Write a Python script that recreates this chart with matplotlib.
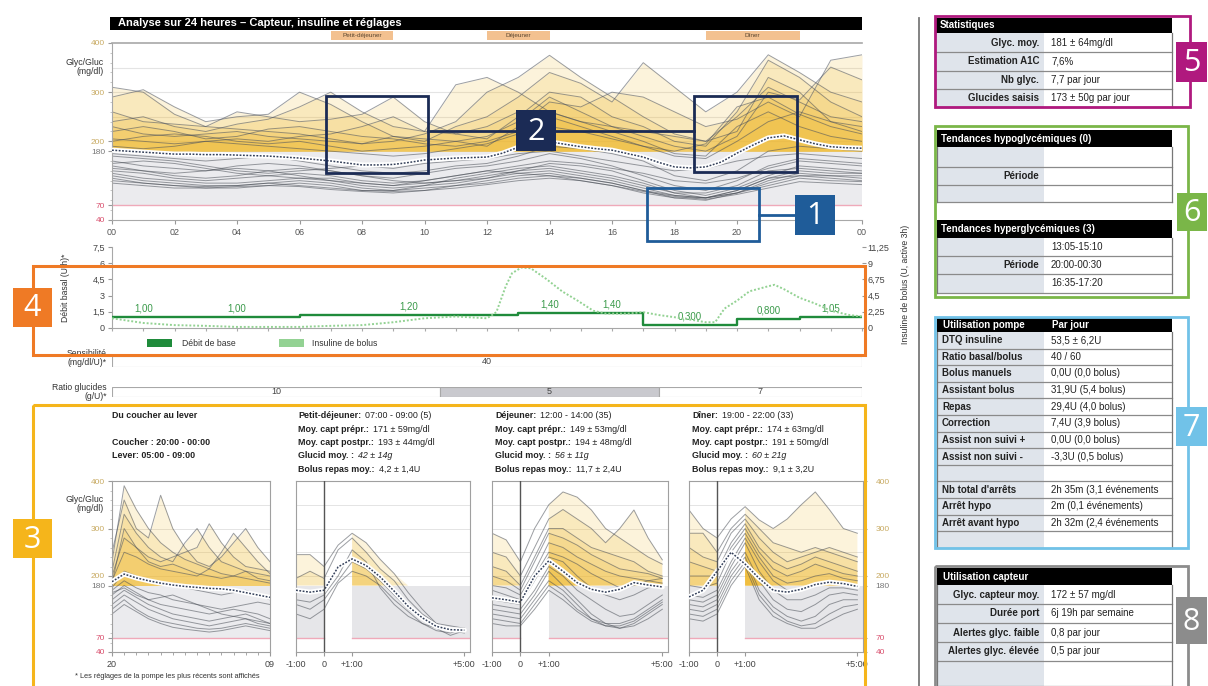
import numpy as np
import matplotlib
matplotlib.use("Agg")
import matplotlib.pyplot as plt
from matplotlib.patches import Rectangle
from matplotlib.transforms import blended_transform_factory
from matplotlib.ticker import MultipleLocator

plt.rcParams["font.family"] = ["Liberation Sans", "DejaVu Sans"]

# ---------------------------------------------------------------- data
hours = np.arange(25)

day_traces = [
    [310, 300, 255, 230, 225, 220, 215, 205, 195, 200, 215, 240, 300, 330, 375, 330, 290, 250, 215, 200, 250, 310, 280, 250, 240],
    [290, 305, 270, 240, 250, 255, 300, 275, 240, 210, 200, 230, 250, 290, 340, 318, 280, 360, 310, 260, 300, 376, 340, 300, 280],
    [260, 240, 235, 230, 260, 250, 240, 245, 255, 290, 240, 215, 205, 250, 300, 290, 250, 230, 200, 190, 260, 365, 330, 280, 250],
    [240, 250, 230, 220, 235, 245, 270, 300, 260, 230, 220, 315, 330, 300, 260, 240, 230, 210, 190, 180, 210, 300, 284, 351, 325],
    [230, 215, 210, 215, 220, 210, 205, 200, 195, 210, 205, 200, 190, 230, 280, 270, 300, 290, 260, 230, 245, 280, 250, 365, 376],
    [220, 230, 220, 205, 210, 225, 230, 220, 210, 205, 195, 190, 200, 220, 260, 240, 220, 200, 175, 170, 230, 260, 230, 210, 200],
    [205, 200, 195, 200, 205, 200, 210, 215, 230, 250, 220, 215, 230, 260, 250, 230, 210, 190, 170, 165, 200, 240, 260, 240, 220],
    [200, 210, 215, 210, 200, 195, 200, 190, 180, 185, 190, 200, 210, 240, 290, 260, 230, 220, 210, 200, 220, 330, 300, 240, 230],
    [190, 185, 190, 200, 195, 190, 185, 180, 175, 170, 175, 185, 195, 215, 230, 220, 205, 190, 180, 195, 270, 290, 255, 230, 215],
    [175, 170, 165, 160, 165, 170, 160, 150, 140, 135, 140, 150, 155, 170, 190, 185, 175, 160, 130, 120, 140, 180, 190, 185, 180],
    [170, 165, 160, 150, 140, 135, 140, 145, 150, 145, 155, 160, 165, 175, 180, 170, 160, 150, 140, 145, 160, 170, 175, 170, 165],
    [160, 150, 145, 140, 150, 155, 150, 140, 130, 125, 135, 145, 150, 160, 175, 165, 150, 130, 110, 100, 120, 150, 165, 160, 155],
    [155, 160, 155, 145, 135, 130, 125, 120, 115, 110, 120, 130, 140, 150, 160, 155, 145, 135, 120, 115, 125, 145, 160, 155, 150],
    [150, 140, 130, 125, 130, 140, 145, 140, 130, 120, 115, 120, 125, 140, 155, 150, 140, 120, 100, 90, 105, 130, 150, 145, 140],
    [145, 140, 135, 140, 145, 140, 130, 120, 110, 105, 110, 125, 135, 145, 150, 140, 130, 115, 95, 85, 100, 125, 140, 135, 135],
    [140, 135, 125, 120, 125, 130, 135, 130, 120, 115, 120, 130, 140, 135, 140, 130, 120, 105, 90, 85, 95, 115, 130, 130, 130],
    [135, 125, 120, 115, 115, 120, 125, 125, 115, 110, 115, 120, 130, 140, 145, 135, 125, 110, 95, 95, 110, 140, 145, 140, 135],
    [130, 120, 115, 110, 110, 115, 120, 115, 105, 100, 105, 110, 120, 130, 135, 125, 115, 100, 85, 80, 95, 120, 135, 130, 125],
    [125, 115, 110, 105, 105, 110, 115, 110, 100, 100, 110, 115, 125, 135, 130, 120, 110, 95, 85, 85, 100, 125, 130, 125, 120],
    [120, 115, 110, 108, 110, 115, 110, 105, 100, 98, 100, 110, 115, 125, 130, 125, 115, 100, 90, 85, 95, 110, 125, 120, 118],
    [115, 110, 105, 105, 108, 110, 108, 102, 98, 95, 100, 105, 112, 120, 125, 120, 110, 98, 88, 82, 92, 105, 118, 115, 112],
]

day_mean_t = np.arange(0, 24.5, 0.5)
day_mean = [182, 180, 178, 176, 174, 174, 173, 173, 172, 171, 170, 168, 166, 163, 160, 156,
            152, 152, 153, 157, 162, 164, 166, 167, 168, 176, 188, 203, 199, 194, 189, 185,
            182, 175, 168, 157, 148, 146, 148, 158, 176, 192, 207, 211, 203, 195, 189, 187, 186]

hour_labels = ["00", "02", "04", "06", "08", "10", "12", "14", "16", "18", "20", "22", "00"]

meal_names = ["Petit-déjeuner", "Déjeuner", "Dîner"]
meal_start = [7, 12, 19]
meal_end = [9, 14, 22]

gl_ticks = [40, 70, 180, 200, 300, 400]
gl_tick_colors = ["#d9506e", "#d9506e", "#777777", "#c8aa62", "#c8aa62", "#c8aa62"]

# basal programme (U/h) and active bolus insulin (U)
basal_start = [0, 2, 6, 13, 15, 17, 20, 22]
basal_end = [2, 6, 13, 15, 17, 20, 22, 24]
basal_rate = [1.00, 1.00, 1.20, 1.40, 1.40, 0.300, 0.800, 1.05]

bolus_t = [0, 1, 2, 3, 4, 5, 6, 7, 8, 9, 10, 11, 12, 12.3, 12.6, 12.8, 13.1, 13.4, 13.9, 14.4,
           14.9, 15.4, 15.8, 16.5, 17, 17.5, 18, 18.6, 19, 19.3, 19.6, 20, 20.4, 21, 21.2, 21.5,
           22, 22.5, 23, 23.6, 24]
bolus_u = [1.35, 0.7, 0.4, 0.3, 0.15, 0.15, 0.15, 0.3, 0.4, 0.8, 1.35, 1.6, 1.35, 2.2, 5.8, 7.6,
           8.4, 8.3, 6.8, 5.1, 3.8, 2.4, 2.0, 2.0, 2.2, 1.8, 1.5, 1.1, 0.8, 0.8, 2.7, 3.8, 5.1,
           5.8, 6.0, 5.4, 4.2, 3.4, 2.4, 1.8, 1.6]

sensitivity_value = 40
ratio_start = [0, 10.5, 17.5]
ratio_end = [10.5, 17.5, 24]
ratio_value = [10, 5, 7]
ratio_color = ["white", "#c9c9ce", "white"]

# overnight panel: 20:00 -> 09:00, hourly
night_t = np.arange(14)
night_traces = [
    [230, 390, 340, 300, 270, 250, 235, 225, 215, 205, 200, 195, 190, 185],
    [250, 360, 300, 280, 370, 300, 260, 230, 220, 240, 270, 300, 260, 230],
    [210, 330, 290, 260, 240, 230, 270, 300, 260, 230, 220, 210, 205, 200],
    [200, 280, 260, 240, 230, 240, 250, 260, 310, 270, 240, 220, 215, 210],
    [190, 250, 240, 225, 215, 210, 205, 200, 215, 250, 290, 260, 230, 205],
    [185, 300, 260, 230, 220, 225, 215, 205, 200, 195, 200, 210, 195, 190],
    [175, 210, 200, 190, 185, 180, 175, 170, 165, 160, 165, 170, 160, 150],
    [170, 190, 175, 165, 160, 150, 145, 140, 135, 130, 135, 140, 145, 140],
    [160, 180, 165, 150, 140, 135, 130, 125, 120, 125, 130, 125, 120, 110],
    [150, 170, 155, 140, 130, 120, 115, 110, 105, 110, 115, 120, 110, 100],
    [140, 160, 145, 130, 120, 110, 105, 100, 95, 100, 105, 110, 100, 95],
    [130, 150, 130, 115, 105, 100, 95, 90, 88, 90, 95, 100, 95, 90],
    [120, 140, 125, 110, 100, 92, 88, 85, 82, 85, 90, 95, 90, 85],
    [165, 175, 160, 150, 155, 160, 150, 140, 130, 120, 115, 110, 105, 100],
]
night_mean = [188, 204, 196, 190, 185, 181, 178, 176, 174, 173, 170, 165, 160, 155]

# meal panels: -1 h -> +5 h around the meal, every 30 min
meal_t = np.arange(-1, 5.25, 0.5)

breakfast_traces = [
    [245, 245, 220, 265, 290, 270, 235, 205, 165, 130, 100, 85, 80],
    [195, 210, 195, 255, 280, 250, 215, 190, 150, 120, 100, 95, 90],
    [140, 130, 150, 190, 230, 215, 190, 160, 130, 110, 90, 75, 85],
    [120, 110, 130, 185, 210, 200, 180, 150, 125, 100, 85, 80, 90],
    [150, 145, 160, 200, 255, 230, 175, 140, 115, 100, 90, 85, 88],
]
breakfast_mean = [170, 166, 170, 219, 236, 222, 198, 168, 136, 112, 94, 87, 86]

lunch_traces = [
    [290, 276, 230, 300, 350, 377, 366, 339, 300, 280, 260, 240, 225],
    [250, 240, 200, 260, 320, 340, 320, 300, 270, 300, 339, 280, 234],
    [220, 210, 180, 240, 300, 300, 280, 260, 250, 240, 230, 210, 200],
    [200, 190, 170, 230, 290, 280, 265, 245, 230, 215, 210, 205, 195],
    [180, 175, 160, 210, 270, 260, 240, 225, 210, 200, 195, 190, 185],
    [170, 160, 150, 200, 250, 240, 225, 205, 190, 175, 180, 190, 195],
    [150, 145, 140, 190, 240, 230, 200, 175, 160, 150, 160, 175, 180],
    [140, 135, 130, 170, 220, 200, 170, 150, 130, 115, 120, 140, 160],
    [130, 125, 120, 160, 210, 180, 150, 120, 100, 90, 95, 110, 130],
    [120, 115, 110, 150, 190, 170, 140, 110, 95, 90, 100, 120, 140],
    [110, 105, 100, 140, 180, 160, 130, 110, 100, 100, 110, 130, 150],
    [100, 95, 95, 130, 170, 150, 125, 105, 95, 95, 105, 125, 145],
]
lunch_mean = [154, 150, 145, 200, 232, 210, 186, 172, 166, 172, 186, 181, 177]

dinner_traces = [
    [339, 300, 280, 320, 346, 318, 300, 320, 350, 377, 340, 300, 290],
    [290, 290, 250, 300, 330, 300, 270, 260, 250, 260, 250, 240, 230],
    [260, 240, 230, 290, 320, 280, 250, 230, 240, 250, 260, 250, 240],
    [230, 220, 210, 270, 310, 260, 230, 215, 225, 240, 230, 220, 210],
    [200, 200, 200, 260, 300, 250, 215, 200, 210, 225, 215, 205, 200],
    [180, 175, 185, 250, 290, 240, 200, 185, 190, 200, 205, 195, 190],
    [160, 155, 170, 230, 280, 230, 190, 170, 170, 180, 190, 185, 180],
    [150, 145, 160, 220, 270, 210, 170, 150, 150, 160, 175, 175, 170],
    [140, 135, 150, 210, 250, 190, 150, 130, 125, 140, 160, 165, 160],
    [130, 125, 140, 200, 240, 170, 135, 115, 105, 115, 140, 150, 150],
    [120, 115, 130, 190, 230, 160, 125, 105, 95, 100, 120, 135, 140],
    [110, 105, 120, 180, 220, 150, 115, 100, 90, 90, 105, 120, 130],
]
dinner_mean = [156, 170, 210, 250, 225, 195, 170, 166, 172, 182, 187, 184, 178]

night_text = [("Du coucher au lever", None), ("", None),
              ("Coucher : 20:00 - 00:00", None), ("Lever: 05:00 - 09:00", None)]
breakfast_text = [("Petit-déjeuner:", "07:00 - 09:00 (5)"), ("Moy. capt prépr.:", "171 ± 59mg/dl"),
                  ("Moy. capt postpr.:", "193 ± 44mg/dl"), ("Glucid moy. :", "42 ± 14g"),
                  ("Bolus repas moy.:", "4,2 ± 1,4U")]
lunch_text = [("Déjeuner:", "12:00 - 14:00 (35)"), ("Moy. capt prépr.:", "149 ± 53mg/dl"),
              ("Moy. capt postpr.:", "194 ± 48mg/dl"), ("Glucid moy. :", "56 ± 11g"),
              ("Bolus repas moy.:", "11,7 ± 2,4U")]
dinner_text = [("Dîner:", "19:00 - 22:00 (33)"), ("Moy. capt prépr.:", "174 ± 63mg/dl"),
               ("Moy. capt postpr.:", "191 ± 50mg/dl"), ("Glucid moy. :", "60 ± 21g"),
               ("Bolus repas moy.:", "9,1 ± 3,2U")]

stats_labels = ["Glyc. moy.", "Estimation A1C", "Nb glyc.", "Glucides saisis"]
stats_values = ["181 ± 64mg/dl", "7,6%", "7,7 par jour", "173 ± 50g par jour"]
hyper_periods = ["13:05-15:10", "20:00-00:30", "16:35-17:20"]
pump_labels = ["DTQ insuline", "Ratio basal/bolus", "Bolus manuels", "Assistant bolus", "Repas",
               "Correction", "Assist non suivi +", "Assist non suivi -", "",
               "Nb total d'arrêts", "Arrêt hypo", "Arrêt avant hypo", ""]
pump_values = ["53,5 ± 6,2U", "40 / 60", "0,0U (0,0 bolus)", "31,9U (5,4 bolus)",
               "29,4U (4,0 bolus)", "7,4U (3,9 bolus)", "0,0U (0,0 bolus)", "-3,3U (0,5 bolus)", "",
               "2h 35m (3,1 événements", "2m (0,1 événements)", "2h 32m (2,4 événements", ""]
sensor_labels = ["Glyc. capteur moy.", "Durée port", "Alertes glyc. faible", "Alertes glyc. élevée", ""]
sensor_values = ["172 ± 57 mg/dl", "6j 19h par semaine", "0,8 par jour", "0,5 par jour", ""]

# ---------------------------------------------------------------- style
FILL = "#f0b92c"
TRACE = "#4a4f57"
BAND = "#ebebee"
PINK = "#efa9b9"
GRID = "#e4e4e4"
TICK = "#555555"

W, H = 1208, 686
fig = plt.figure(figsize=(W / 100, H / 100), dpi=100)
fig.patch.set_facecolor("white")


def px_axes(x0, y0, x1, y1):
    return fig.add_axes([x0 / W, 1 - y1 / H, (x1 - x0) / W, (y1 - y0) / H])


def glucose_yaxis(ax, show_labels=True, right=False):
    ax.set_yticks(gl_ticks)
    ax.set_yticklabels([str(v) for v in gl_ticks] if show_labels else [])
    if right:
        ax.yaxis.tick_right()
    for tick, c in zip(ax.yaxis.get_major_ticks(), gl_tick_colors):
        tick.label1.set_color(c)
        tick.label2.set_color(c)
    ax.yaxis.set_minor_locator(MultipleLocator(20))
    ax.tick_params(axis="y", which="major", length=3, labelsize=6, pad=2, color="#999")
    ax.tick_params(axis="y", which="minor", length=1.5, color="#bbb")


def draw_traces(ax, t, traces, mean_t, mean, fill_mask=None):
    t = np.asarray(t, float)
    for v in traces:
        v = np.asarray(v, float)
        ax.fill_between(t, 180, np.maximum(v, 180), where=fill_mask, color=FILL,
                        alpha=0.17, lw=0, zorder=1)
    for v in traces:
        ax.plot(t, v, color=TRACE, alpha=0.55, lw=0.7, zorder=2)
    ax.plot(mean_t, mean, color="white", lw=3.6, zorder=3, solid_capstyle="round")
    ax.plot(mean_t, mean, color="#34405a", lw=1.1, ls=(0, (1.2, 1.0)), zorder=4)


# ---------------------------------------------------------------- 24 h overlay chart
ax = px_axes(112, 43, 862, 220)
ax.set_xlim(0, 24)
ax.set_ylim(40, 400)
ax.axhspan(70, 180, color=BAND, lw=0, zorder=0)
for g in (200, 250, 300, 350):
    ax.axhline(g, color=GRID, lw=0.8, zorder=0)
ax.axhline(70, color=PINK, lw=1.0, zorder=0.5)
draw_traces(ax, hours, day_traces, day_mean_t, day_mean)
for s in ("top", "bottom", "left"):
    ax.spines[s].set_color("#a8a8a8")
ax.spines["right"].set_visible(False)
ax.spines["top"].set_linewidth(1.2)
ax.set_xticks(np.arange(0, 25, 2))
ax.set_xticklabels(hour_labels)
ax.tick_params(axis="x", length=3, labelsize=6.5, colors=TICK, pad=3)
ax.tick_params(axis="x", color="#999")
glucose_yaxis(ax)

trans = blended_transform_factory(ax.transData, ax.transAxes)
for name, a, b in zip(meal_names, meal_start, meal_end):
    ax.add_patch(Rectangle((a, 1.017), b - a, 0.05, transform=trans, clip_on=False,
                           fc="#f3c190", ec="none"))
    ax.text((a + b) / 2, 1.042, name, transform=trans, ha="center", va="center",
            fontsize=4.6, color="#5a4630")

# ---------------------------------------------------------------- insulin chart
ai = px_axes(112, 247, 862, 328)
ai.set_xlim(0, 24)
ai.set_ylim(0, 7.5)
ab = ai.twinx()
ab.set_ylim(0, 11.25)
ab.plot(bolus_t, bolus_u, color="#93d293", lw=1.4, ls=(0, (1.0, 1.0)), zorder=2)
step_x = basal_start + [basal_end[-1]]
step_y = basal_rate + [basal_rate[-1]]
ai.step(step_x, step_y, where="post", color="#1f8b3b", lw=1.7, zorder=3)
for a, b, r in zip(basal_start, basal_end, basal_rate):
    lab = (f"{r:.3f}" if r < 1 else f"{r:.2f}").replace(".", ",")
    ai.text((a + b) / 2, r + 0.8, lab, ha="center", va="center", fontsize=7, color="#3a9a4a")
ai.set_yticks([0, 1.5, 3, 4.5, 6, 7.5])
ai.set_yticklabels(["0", "1,5", "3", "4,5", "6", "7,5"])
ab.set_yticks([0, 2.25, 4.5, 6.75, 9, 11.25])
ab.set_yticklabels(["0", "2,25", "4,5", "6,75", "9", "11,25"])
ai.set_xticks(np.arange(0, 25, 1))
ai.set_xticklabels([])
ai.tick_params(axis="x", length=2, color="#aaa")
ai.tick_params(axis="y", length=3, labelsize=6.5, colors="#444", pad=2)
ai.tick_params(axis="y", color="#999")
ab.tick_params(axis="y", length=3, labelsize=6.5, colors="#444", pad=1)
ab.tick_params(axis="y", color="#999")
for s in ("top", "right"):
    ai.spines[s].set_visible(False)
for s in ab.spines.values():
    s.set_visible(False)
ai.spines["left"].set_color("#a8a8a8")
ai.spines["bottom"].set_color("#a8a8a8")
ai.patch.set_alpha(0)

# ---------------------------------------------------------------- settings rows
asen = px_axes(112, 356, 862, 367)
asen.set_xlim(0, 24)
asen.set_ylim(0, 1)
asen.add_patch(Rectangle((0, 0), 24, 1, fc="white", ec="#a8a8a8", lw=0.8))
asen.text(12, 0.5, str(sensitivity_value), ha="center", va="center", fontsize=6.5, color="#444")
asen.axis("off")

arat = px_axes(112, 387, 862, 397)
arat.set_xlim(0, 24)
arat.set_ylim(0, 1)
for a, b, v, c in zip(ratio_start, ratio_end, ratio_value, ratio_color):
    arat.barh(0.5, b - a, left=a, height=1, color=c, edgecolor="#a8a8a8", lw=0.8)
    arat.text((a + b) / 2, 0.5, str(v), ha="center", va="center", fontsize=6.5, color="#444")
arat.axis("off")


# ---------------------------------------------------------------- small glucose panels
def glucose_panel(x0, x1, t, traces, mean, overnight):
    p = px_axes(x0, 481, x1, 652)
    p.set_ylim(40, 400)
    for g in (200, 250, 300, 350):
        p.axhline(g, color=GRID, lw=0.7, zorder=0)
    t = np.asarray(t, float)
    if overnight:
        p.set_xlim(0, 13)
        p.axhspan(70, 180, color=BAND, lw=0, zorder=0)
        p.axhline(70, color=PINK, lw=1.0, zorder=0.5)
        mask = None
        p.set_xticks([0, 13])
        p.set_xticklabels(["20", "09"])
        p.xaxis.set_minor_locator(MultipleLocator(1))
    else:
        p.set_xlim(-1, 5.2)
        for a, b in ((-1, 0), (1, 5.2)):
            p.add_patch(Rectangle((a, 70), b - a, 110, fc="#e6e6e9", ec="none", zorder=0))
            p.plot([a, b], [70, 70], color=PINK, lw=1.0, zorder=0.5)
        p.axvline(0, color="#555", lw=1.0, zorder=5)
        mask = (t <= 0) | (t >= 1)
        p.set_xticks([-1, 0, 1, 5])
        p.set_xticklabels(["-1:00", "0", "+1:00", "+5:00"])
    draw_traces(p, t, traces, t, mean, mask)
    p.tick_params(axis="x", which="major", length=3, labelsize=6.5, colors="#444", pad=3)
    p.tick_params(axis="x", which="both", color="#999")
    p.tick_params(axis="x", which="minor", length=2)
    for s in p.spines.values():
        s.set_color("#a0a0a0")
        s.set_linewidth(0.8)
    return p


p1 = glucose_panel(112, 270, night_t, night_traces, night_mean, True)
glucose_yaxis(p1)
p2 = glucose_panel(296, 470, meal_t, breakfast_traces, breakfast_mean, False)
p3 = glucose_panel(492, 668, meal_t, lunch_traces, lunch_mean, False)
p4 = glucose_panel(689, 863, meal_t, dinner_traces, dinner_mean, False)
for p in (p2, p3):
    p.tick_params(axis="y", which="both", left=False, labelleft=False)
glucose_yaxis(p4, right=True)
p4.tick_params(axis="y", which="major", pad=6)

# ---------------------------------------------------------------- annotation layer
ov = fig.add_axes([0, 0, 1, 1])
ov.set_xlim(0, W)
ov.set_ylim(H, 0)
ov.axis("off")
ov.set_zorder(10)

# title bar
ov.add_patch(Rectangle((110, 17), 752, 13, fc="black", ec="none"))
ov.text(118, 23.5, "Analyse sur 24 heures – Capteur, insuline et réglages", color="white",
        fontsize=8, fontweight="bold", va="center", ha="left")

ov.text(104, 67, "Glyc/Gluc\n(mg/dl)", ha="right", va="center", fontsize=6.3, color="#333",
        linespacing=1.1)
ov.text(104, 504, "Glyc/Gluc\n(mg/dl)", ha="right", va="center", fontsize=6.3, color="#333",
        linespacing=1.1)
ov.text(66, 288, "Débit basal (U/h)*", rotation=90, ha="center", va="center", fontsize=6.2,
        color="#333")
ov.text(905, 284, "Insuline de bolus (U, active 3h)", rotation=90, ha="center", va="center",
        fontsize=6.2, color="#333")
ov.text(107, 358, "Sensibilité\n(mg/dl/U)*", ha="right", va="center", fontsize=6.2,
        color="#333", linespacing=1.1)
ov.text(107, 392, "Ratio glucides\n(g/U)*", ha="right", va="center", fontsize=6.2,
        color="#333", linespacing=1.1)

# insulin legend
ov.add_patch(Rectangle((147, 339), 25, 8, fc="#1f8b3b", ec="none"))
ov.text(182, 343, "Débit de base", fontsize=6.2, va="center", color="#333")
ov.add_patch(Rectangle((279, 339), 25, 8, fc="#93d293", ec="none"))
ov.text(312, 343, "Insuline de bolus", fontsize=6.2, va="center", color="#333")


# panel headings
def panel_heading(x, lines):
    y = 416
    for lab, val in lines:
        if lab:
            t = ov.text(x, y, lab, fontsize=6.4, fontweight="bold", va="center", ha="left",
                        color="#222")
            if val:
                style = "italic" if lab.startswith("Glucid") else "normal"
                ov.annotate(val, xy=(1, 0.5), xycoords=t, xytext=(3, 0),
                            textcoords="offset points", va="center", ha="left",
                            fontsize=6.4, color="#222", fontstyle=style)
        y += 13.3


panel_heading(112, night_text)
panel_heading(298, breakfast_text)
panel_heading(495, lunch_text)
panel_heading(692, dinner_text)

ov.text(75, 676, "* Les réglages de la pompe les plus récents sont affichés", fontsize=5.3,
        va="center", color="#333")

# separator
ov.plot([919, 919], [18, 686], color="#7a7a7a", lw=1.3)


# tables
def header(x0, x1, ya, yb, texts):
    ov.add_patch(Rectangle((x0, ya), x1 - x0, yb - ya, fc="black", ec="none", zorder=2))
    for xt, s in texts:
        ov.text(xt, (ya + yb) / 2, s, color="white", fontsize=7, fontweight="bold",
                va="center", ha="left", zorder=3)


def rows(x0, xs, x1, edges, labels, values, label_right=True):
    for ya, yb in zip(edges[:-1], edges[1:]):
        ov.add_patch(Rectangle((x0, ya), xs - x0, yb - ya, fc="#dfe4eb", ec="none", zorder=1))
        ov.add_patch(Rectangle((xs, ya), x1 - xs, yb - ya, fc="white", ec="none", zorder=1))
        ov.plot([x0, x1], [yb, yb], color="#8a8a8a", lw=0.9, zorder=2)
    ov.plot([x0, x0], [edges[0], edges[-1]], color="#777", lw=0.9, zorder=2)
    ov.plot([x1, x1], [edges[0], edges[-1]], color="#777", lw=0.9, zorder=2)
    for ya, yb, lab, val in zip(edges[:-1], edges[1:], labels, values):
        yc = (ya + yb) / 2
        if lab:
            if label_right:
                ov.text(xs - 5, yc, lab, fontsize=7, fontweight="bold", ha="right",
                        va="center", color="#222", zorder=3)
            else:
                ov.text(x0 + 5, yc, lab, fontsize=7, fontweight="bold", ha="left",
                        va="center", color="#222", zorder=3)
        if val:
            ov.text(xs + 7, yc, val, fontsize=7, ha="left", va="center", color="#222",
                    zorder=3)


TX0, TXS, TX1 = 935, 1044, 1172

header(TX0, TX1, 18, 33, [(TX0 + 5, "Statistiques")])
rows(TX0, TXS, TX1, [33, 52, 71, 89, 107], stats_labels, stats_values)

header(TX0 + 2, TX1, 130, 147, [(TX0 + 6, "Tendances hypoglycémiques (0)")])
rows(TX0 + 2, TXS, TX1, [147, 167, 185, 202], ["", "Période", ""], ["", "", ""])
header(TX0 + 2, TX1, 220, 238, [(TX0 + 6, "Tendances hyperglycémiques (3)")])
rows(TX0 + 2, TXS, TX1, [238, 256, 274, 293], ["", "Période", ""], hyper_periods)

header(TX0 + 2, TX1, 318, 332, [(TX0 + 8, "Utilisation pompe"), (TXS + 8, "Par jour")])
pump_edges = [332 + 16.6 * k for k in range(len(pump_labels) + 1)]
rows(TX0 + 2, TXS, TX1, pump_edges, pump_labels, pump_values, label_right=False)

header(TX0 + 2, TX1, 568, 585, [(TX0 + 8, "Utilisation capteur")])
rows(TX0 + 2, TXS, TX1, [585, 604, 623, 642, 661, 686], sensor_labels, sensor_values)


# coloured call-out frames and numbered tags
def frame(x0, y0, x1, y1, color, lw=2.0):
    ov.add_patch(Rectangle((x0, y0), x1 - x0, y1 - y0, fc="none", ec=color, lw=lw, zorder=6))


def tag(x0, y0, x1, y1, color, s):
    ov.add_patch(Rectangle((x0, y0), x1 - x0, y1 - y0, fc=color, ec="none", zorder=7))
    ov.text((x0 + x1) / 2, (y0 + y1) / 2 + 1, s, color="white", fontsize=22,
            family=["Open Sans", "DejaVu Sans"], ha="center", va="center", zorder=8)


C1, C2, C3, C4 = "#1f5c99", "#1b2b55", "#f5b51b", "#ef7a25"
C5, C6, C7, C8 = "#b0197e", "#7ab648", "#71c2e8", "#8c8c8c"

frame(326, 96, 428, 173, C2)
frame(694, 96, 797, 172, C2)
ov.plot([428, 694], [131, 131], color=C2, lw=2.0, zorder=6)
tag(516, 110, 556, 151, C2, "2")

frame(647, 188, 759, 241, C1)
ov.plot([759, 795], [215, 215], color=C1, lw=2.0, zorder=6)
tag(795, 195, 835, 235, C1, "1")

frame(33, 266, 865, 355, C4, lw=2.2)
tag(13, 288, 52, 327, C4, "4")

frame(33, 405, 865, 700, C3, lw=2.2)
tag(13, 519, 52, 558, C3, "3")

frame(935, 16, 1190, 107, C5)
tag(1176, 42, 1207, 82, C5, "5")

frame(935, 126, 1188, 297, C6)
tag(1177, 193, 1207, 231, C6, "6")

frame(935, 317, 1188, 548, C7)
tag(1176, 407, 1207, 446, C7, "7")

frame(935, 566, 1188, 700, C8)
tag(1176, 597, 1207, 644, C8, "8")

fig.savefig("out.png", dpi=100, facecolor="white")
